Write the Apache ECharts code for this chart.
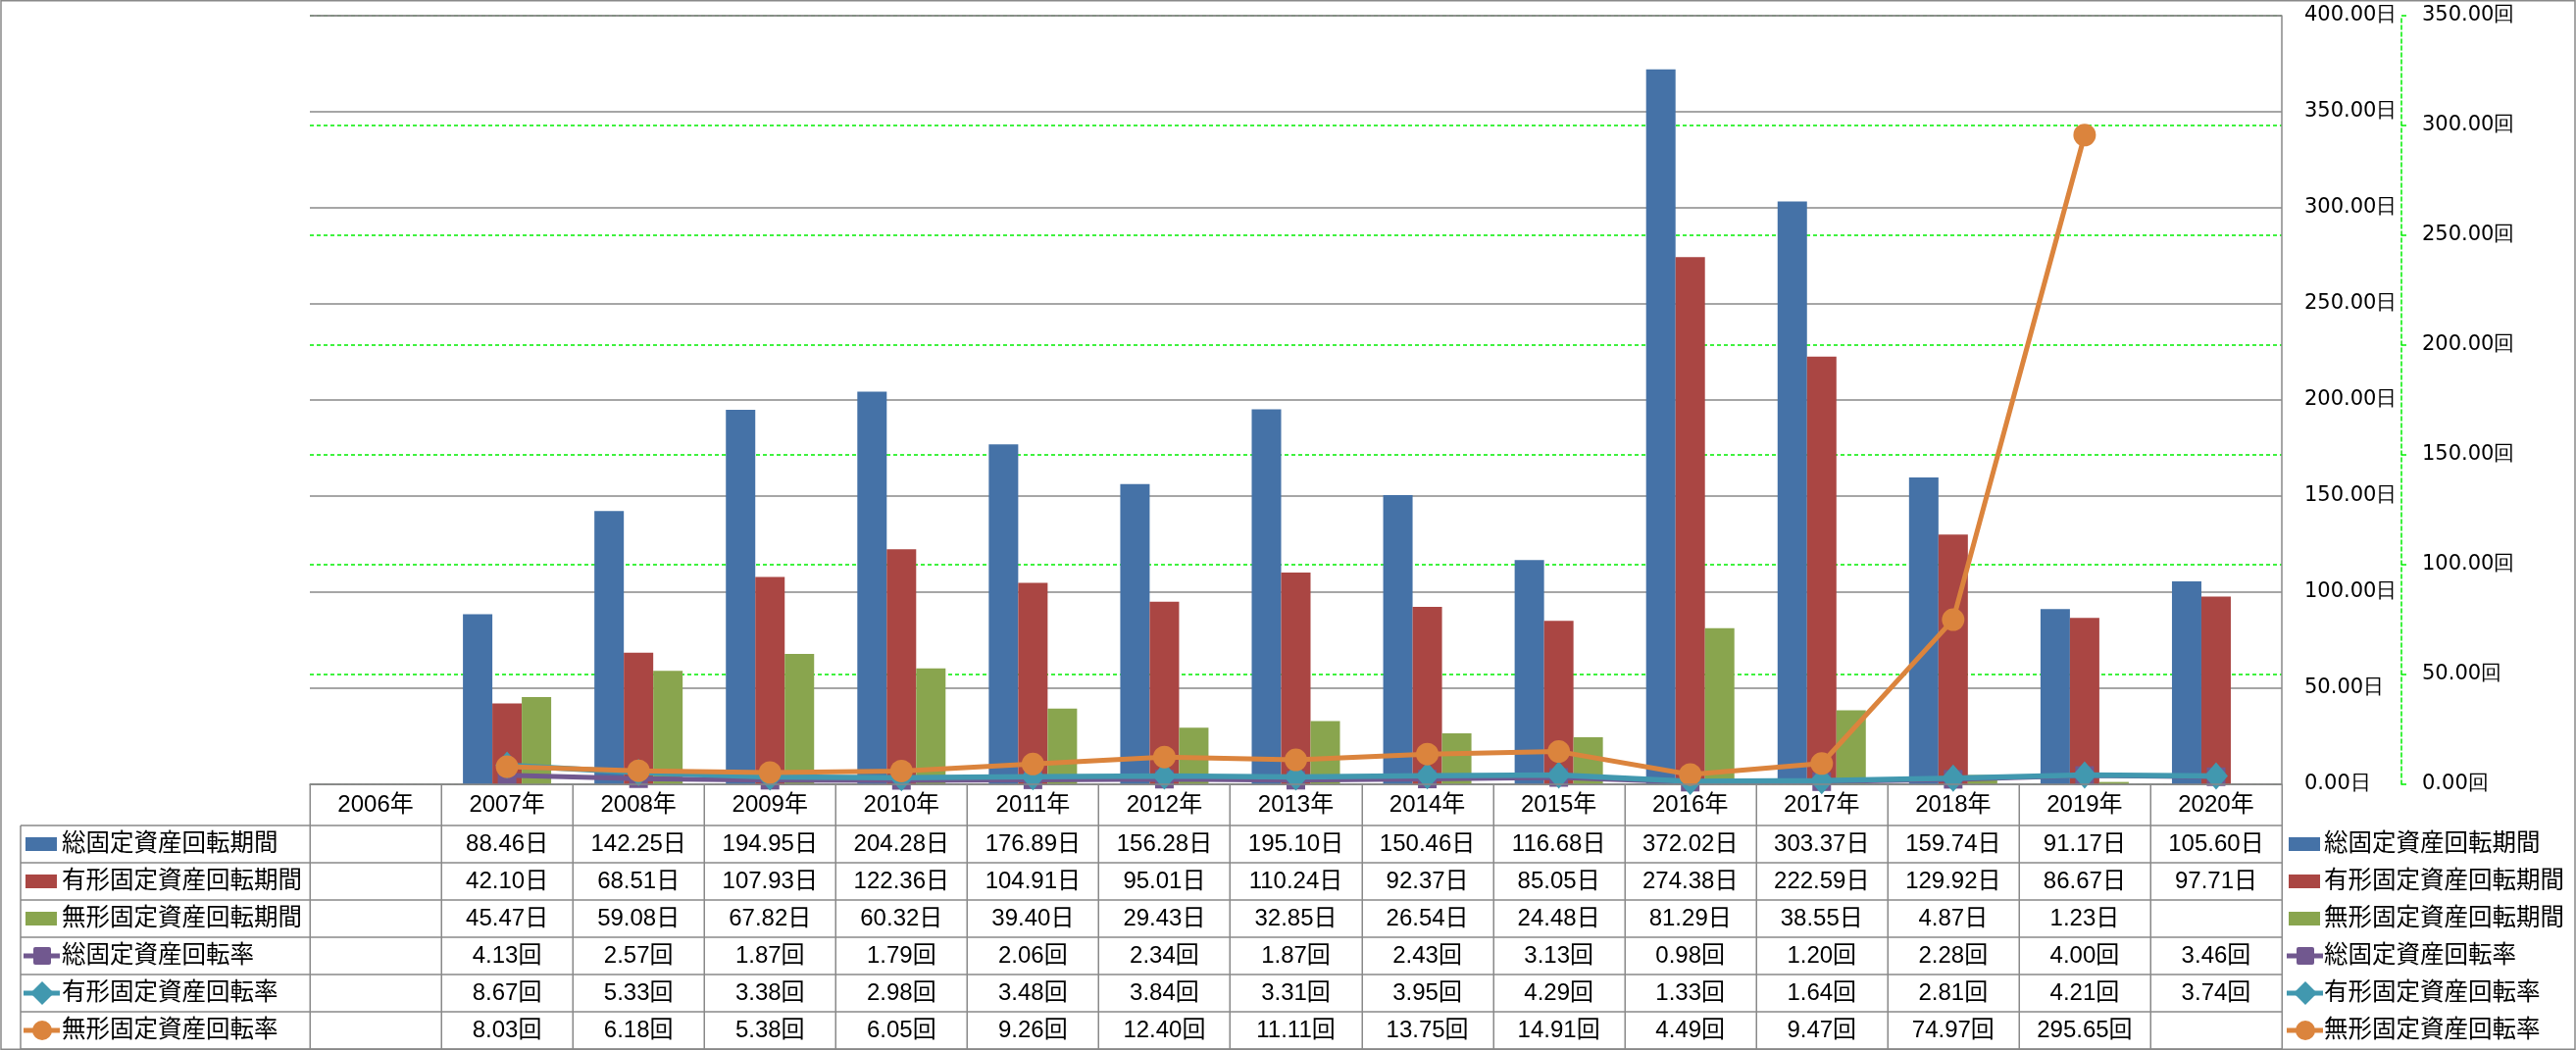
<!DOCTYPE html>
<html>
<head>
<meta charset="utf-8">
<script src="https://cdn.jsdelivr.net/npm/echarts@6/dist/echarts.min.js"></script>
<style>
html,body{margin:0;padding:0;background:#fff;}
#main{width:2627px;height:1071px;}
</style>
</head>
<body>
<div id="main"></div>
<script>
const categories = ['2006年','2007年','2008年','2009年','2010年','2011年','2012年','2013年','2014年','2015年','2016年','2017年','2018年','2019年','2020年'];
const totalPeriod = [null, 88.46, 142.25, 194.95, 204.28, 176.89, 156.28, 195.10, 150.46, 116.68, 372.02, 303.37, 159.74, 91.17, 105.60];
const tangiblePeriod = [null, 42.10, 68.51, 107.93, 122.36, 104.91, 95.01, 110.24, 92.37, 85.05, 274.38, 222.59, 129.92, 86.67, 97.71];
const intangiblePeriod = [null, 45.47, 59.08, 67.82, 60.32, 39.40, 29.43, 32.85, 26.54, 24.48, 81.29, 38.55, 4.87, 1.23, null];
const totalRate = [null, 4.13, 2.57, 1.87, 1.79, 2.06, 2.34, 1.87, 2.43, 3.13, 0.98, 1.20, 2.28, 4.00, 3.46];
const tangibleRate = [null, 8.67, 5.33, 3.38, 2.98, 3.48, 3.84, 3.31, 3.95, 4.29, 1.33, 1.64, 2.81, 4.21, 3.74];
const intangibleRate = [null, 8.03, 6.18, 5.38, 6.05, 9.26, 12.40, 11.11, 13.75, 14.91, 4.49, 9.47, 74.97, 295.65, null];

const seriesNames = ['総固定資産回転期間','有形固定資産回転期間','無形固定資産回転期間','総固定資産回転率','有形固定資産回転率','無形固定資産回転率'];
const seriesUnits = ['日','日','日','回','回','回'];
const colors = ['#4572A7','#AA4643','#89A54E','#71588F','#4198AF','#DB843D'];
const allData = [totalPeriod, tangiblePeriod, intangiblePeriod, totalRate, tangibleRate, intangibleRate];

const chart = echarts.init(document.getElementById('main'), null, {renderer:'canvas'});
const GRID = {left:316, right:300, top:16, bottom:271};
const gridColor = '#898989';
const green = '#00ee00';
const axisFont = 'DejaVu Sans';
const tableFont = '"Liberation Sans", "Noto Sans CJK JP", sans-serif';

const symbols = ['rect','diamond','circle'];
const symbolSizes = [19, [24,28], 23];
const lineWidths = [5, 5.5, 5];

const series = [];
for (let i = 0; i < 3; i++) {
  series.push({
    name: seriesNames[i], type:'bar', yAxisIndex:0, data: allData[i],
    barWidth:30, barGap:'0%',
    itemStyle:{color:colors[i]}, z:2
  });
}
for (let i = 0; i < 3; i++) {
  series.push({
    name: seriesNames[i+3], type:'line', yAxisIndex:1, data: allData[i+3],
    symbol: symbols[i], symbolSize: symbolSizes[i], showSymbol:true,
    lineStyle:{color:colors[i+3], width:lineWidths[i]},
    itemStyle:{color:colors[i+3]}, z:3+i
  });
}

chart.setOption({
  animation:false,
  backgroundColor:'#fff',
  grid: GRID,
  xAxis: {
    type:'category', data:categories, z:1,
    axisLine:{show:true, lineStyle:{color:gridColor, width:1.5}},
    axisTick:{show:false},
    axisLabel:{show:true, fontFamily:tableFont, fontSize:24, color:'#000', margin:21, verticalAlign:'middle'},
    splitLine:{show:false}
  },
  yAxis: [
    {
      type:'value', position:'right', min:0, max:400, interval:50, z:1,
      axisLine:{show:true, lineStyle:{color:gridColor, width:1.5}},
      axisTick:{show:false},
      axisLabel:{fontFamily:axisFont, fontSize:21, color:'#000', margin:23, align:'left',
        formatter:v => v.toFixed(2) + '日'},
      splitLine:{show:true, lineStyle:{color:gridColor, width:1.5}}
    },
    {
      type:'value', position:'right', offset:122, min:0, max:350, interval:50, z:0,
      axisLine:{show:true, lineStyle:{color:green, width:1.5, type:[4,3]}},
      axisTick:{show:true, length:5, lineStyle:{color:green, width:1.5}},
      axisLabel:{fontFamily:axisFont, fontSize:21, color:'#000', margin:21, align:'left',
        formatter:v => v.toFixed(2) + '回'},
      splitLine:{show:true, lineStyle:{color:green, width:1.5, type:[4,3]}}
    }
  ],
  series: series
});

// ---- data table & legend keys ----
const tableTop = 800, headerBottom = 842, rowH = 38, nRows = 6;
const leftX = 21;
const gx0 = GRID.left, gx1 = 2627 - GRID.right;
const colW = (gx1 - gx0) / categories.length;
const g = [];
function hline(x1, x2, y) { g.push({type:'line', silent:true, shape:{x1:x1, y1:y, x2:x2, y2:y}, style:{stroke:gridColor, lineWidth:1.5}, z:10}); }
function vline(x, y1, y2) { g.push({type:'line', silent:true, shape:{x1:x, y1:y1, x2:x, y2:y2}, style:{stroke:gridColor, lineWidth:1.5}, z:10}); }

// outer chart border
g.push({type:'rect', silent:true, shape:{x:1, y:0.75, width:2625, height:1069.5}, style:{fill:null, stroke:gridColor, lineWidth:1.5}, z:9});
// top grid line (400日) drawn grey over the green one
hline(gx0, gx1, GRID.top);

hline(gx0, gx1, tableTop);
for (let r = 0; r <= nRows; r++) hline(leftX, gx1, headerBottom + r * rowH);
vline(leftX, headerBottom, headerBottom + nRows * rowH);
for (let c = 0; c <= categories.length; c++) {
  const x = Math.round(gx0 + c * colW) + 0.25;
  vline(x, tableTop, headerBottom + nRows * rowH);
}

function legendKey(i, x0, cy) {
  const col = colors[i];
  if (i < 3) {
    g.push({type:'rect', silent:true, shape:{x:x0, y:cy - 7, width:32, height:14}, style:{fill:col}, z:11});
  } else {
    g.push({type:'line', silent:true, shape:{x1:x0 - 2, y1:cy, x2:x0 + 35, y2:cy}, style:{stroke:col, lineWidth:5}, z:11});
    const mx = x0 + 17;
    if (i === 3) {
      g.push({type:'rect', silent:true, shape:{x:mx - 9, y:cy - 9, width:18, height:18, r:2}, style:{fill:col}, z:12});
    } else if (i === 4) {
      g.push({type:'polygon', silent:true, shape:{points:[[mx, cy - 12],[mx + 12, cy],[mx, cy + 12],[mx - 12, cy]]}, style:{fill:col}, z:12});
    } else {
      g.push({type:'circle', silent:true, shape:{cx:mx, cy:cy, r:10}, style:{fill:col}, z:12});
    }
  }
}

for (let r = 0; r < nRows; r++) {
  const cy = headerBottom + r * rowH + rowH / 2;
  // left row header
  legendKey(r, 26, cy);
  g.push({type:'text', silent:true, style:{text:seriesNames[r], x:63, y:cy, fill:'#000', font:'24.5px ' + tableFont, align:'left', verticalAlign:'middle'}, z:12});
  // right legend
  legendKey(r, 2334, cy);
  g.push({type:'text', silent:true, style:{text:seriesNames[r], x:2370, y:cy, fill:'#000', font:'24.5px ' + tableFont, align:'left', verticalAlign:'middle'}, z:12});
  // values
  const data = allData[r];
  for (let c = 0; c < categories.length; c++) {
    const v = data[c];
    if (v === null || v === undefined) continue;
    const cx = chart.convertToPixel({xAxisIndex:0}, c);
    g.push({type:'text', silent:true, style:{text:v.toFixed(2) + seriesUnits[r], x:cx, y:cy, fill:'#000', font:'24px ' + tableFont, align:'center', verticalAlign:'middle'}, z:12});
  }
}

chart.setOption({graphic: g});
</script>
</body>
</html>
